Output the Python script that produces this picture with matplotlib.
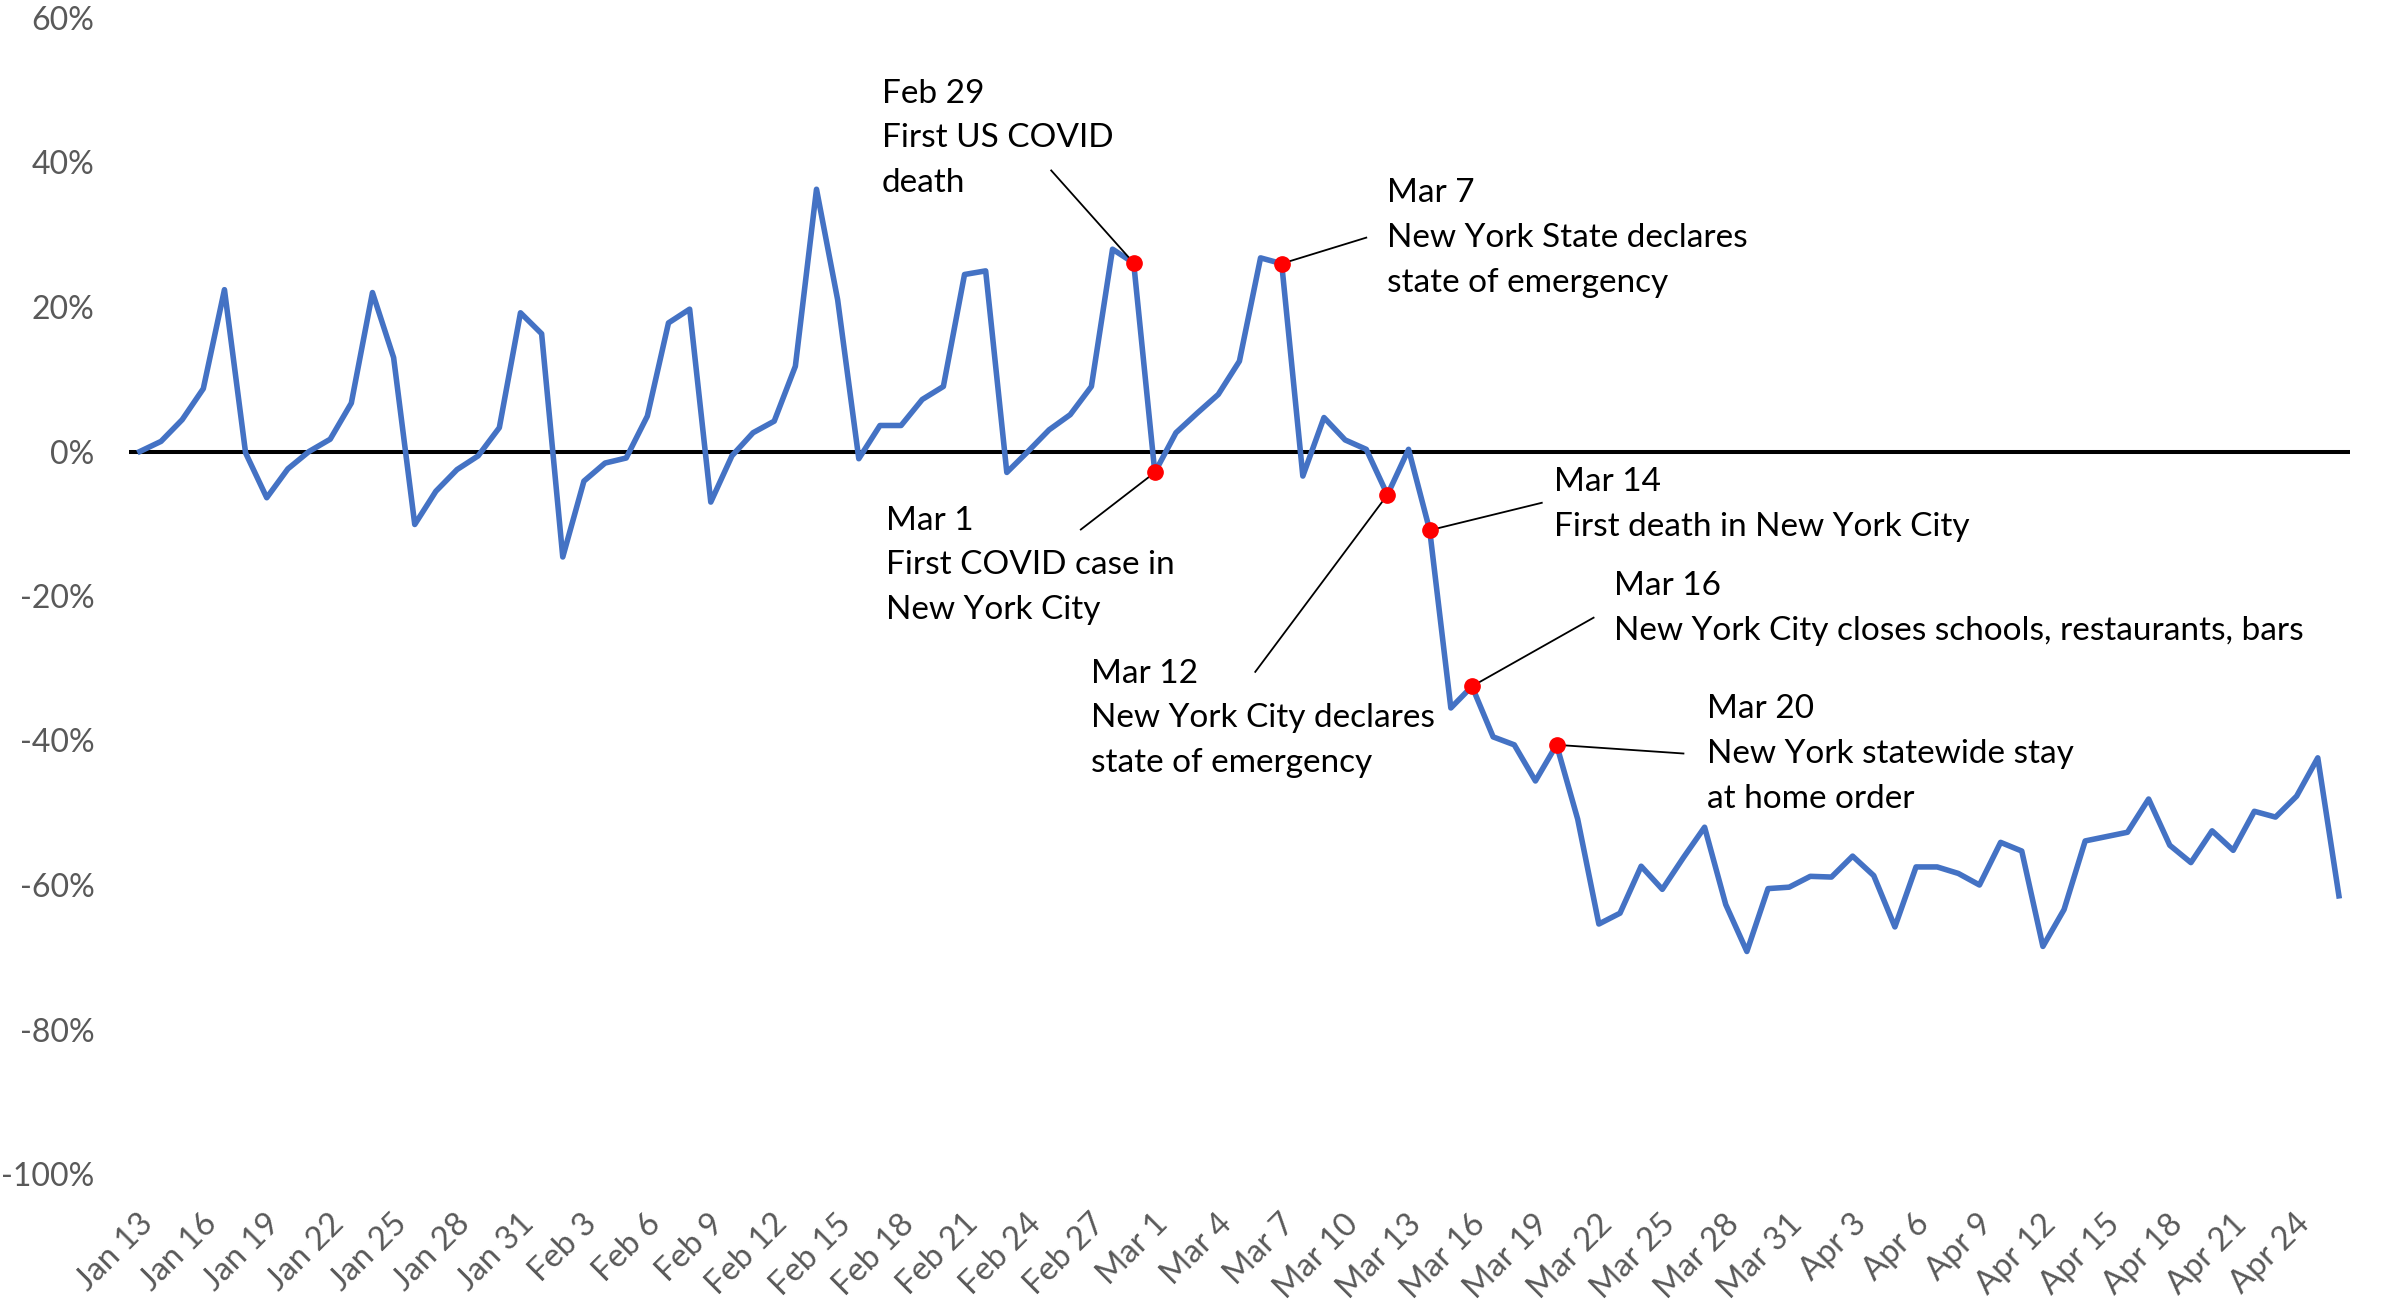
import numpy as np
import pandas as pd
import matplotlib
matplotlib.use("Agg")
import matplotlib.pyplot as plt
from matplotlib.transforms import ScaledTranslation

plt.rcParams["font.family"] = ["Lato", "DejaVu Sans"]

# daily change in %, Jan 13 - Apr 26 2020
dates = pd.date_range("2020-01-13", "2020-04-26", freq="D")
change = [
    0.0, 1.4, 4.4, 8.7, 22.4, -0.2, -6.4, -2.4, 0.0, 1.7,
    6.7, 22.0, 13.0, -10.1, -5.5, -2.5, -0.6, 3.3, 19.2, 16.3,
    -14.6, -4.1, -1.6, -0.9, 4.9, 17.8, 19.7, -7.0, -0.6, 2.6,
    4.2, 11.8, 36.3, 21.0, -1.0, 3.6, 3.6, 7.2, 9.0, 24.5,
    25.0, -2.9, 0.0, 3.0, 5.1, 9.0, 28.0, 26.1, -2.9, 2.6,
    5.3, 7.9, 12.5, 26.8, 26.0, -3.4, 4.7, 1.6, 0.3, -6.0,
    0.3, -10.9, -35.5, -32.5, -39.5, -40.6, -45.6, -40.6, -50.9, -65.4,
    -63.9, -57.4, -60.6, -56.2, -52.0, -62.7, -69.2, -60.5, -60.3, -58.8,
    -58.9, -56.0, -58.7, -65.8, -57.5, -57.5, -58.4, -60.0, -54.1, -55.3,
    -68.5, -63.4, -53.9, -53.3, -52.7, -48.1, -54.5, -56.9, -52.5, -55.2,
    -49.8, -50.6, -47.7, -42.4, -61.5,
]

# events (red dots) and their notes
event_dates = ["2020-02-29", "2020-03-01", "2020-03-07", "2020-03-12",
               "2020-03-14", "2020-03-16", "2020-03-20"]
event_text = [
    "Feb 29\nFirst US COVID\ndeath",
    "Mar 1\nFirst COVID case in\nNew York City",
    "Mar 7\nNew York State declares\nstate of emergency",
    "Mar 12\nNew York City declares\nstate of emergency",
    "Mar 14\nFirst death in New York City",
    "Mar 16\nNew York City closes schools, restaurants, bars",
    "Mar 20\nNew York statewide stay\nat home order",
]
# note position (day index, % at first baseline) and where the leader line stops
label_pos = [(35.1, 48.3), (35.3, -10.8), (59.0, 34.5), (45.0, -32.0),
             (66.9, -5.5), (69.7, -19.9), (74.1, -36.9)]
line_end = [(43.1, 38.9), (44.5, -10.8), (58.0, 29.6), (52.75, -30.5),
            (66.3, -7.1), (68.75, -23.0), (73.0, -41.8)]
line_step = 6.2  # baseline to baseline, in % units

x = np.arange(len(dates))
ev_idx = [dates.get_loc(pd.Timestamp(d)) for d in event_dates]
ev_val = [change[i] for i in ev_idx]

W, H = 2381, 1303
fig = plt.figure(figsize=(W / 100, H / 100), dpi=100)
ax = fig.add_axes([129.3 / W, 1 - 1174 / H, (2349.5 - 129.3) / W, (1174 - 18) / H])

ax.plot(x, change, color="#4472C4", lw=4, zorder=3)
ax.axhline(0, color="black", lw=2.9, zorder=2)
ax.plot(ev_idx, ev_val, "o", color="red", ms=11, zorder=5)

for i, v, txt, (tx, ty), (lx, ly) in zip(ev_idx, ev_val, event_text, label_pos, line_end):
    ax.plot([i, lx], [v, ly], color="black", lw=1.3, zorder=4)
    for k, line in enumerate(txt.split("\n")):
        ax.text(tx, ty - k * line_step, line, ha="left", va="baseline", fontsize=24)

ax.set_xlim(-0.5, len(dates) - 0.5)
ax.set_ylim(-100, 60)
for s in ax.spines.values():
    s.set_visible(False)

yt = np.arange(-100, 61, 20)
ax.set_yticks(yt)
ax.set_yticklabels([f"{v}%" for v in yt])
ax.tick_params(axis="y", length=0, pad=25, labelsize=23, labelcolor="#595959")

xt = x[::3]
ax.set_xticks(xt)
ax.set_xticklabels([f"{d:%b} {d.day}" for d in dates[::3]], rotation=45, ha="right",
                   rotation_mode="anchor")
ax.tick_params(axis="x", length=0, pad=25, labelsize=23.5, labelcolor="#595959")
off = ScaledTranslation(-2 / 100, 0, fig.dpi_scale_trans)
for lab in ax.get_xticklabels():
    lab.set_transform(lab.get_transform() + off)

fig.savefig("out.png", dpi=100)
